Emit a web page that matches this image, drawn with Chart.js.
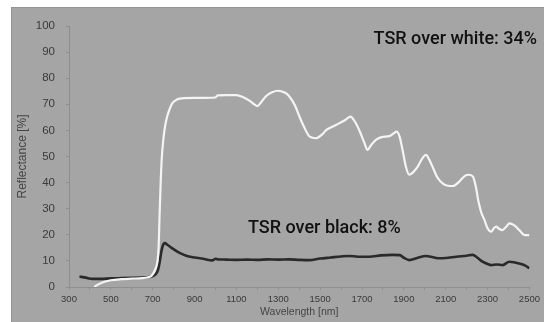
<!DOCTYPE html>
<html>
<head>
<meta charset="utf-8">
<script src="https://cdn.jsdelivr.net/npm/chart.js@4/dist/chart.umd.min.js"></script>
<style>
  html, body { margin: 0; padding: 0; background: #ffffff; }
  #wrap { position: relative; width: 544px; height: 322px; overflow: hidden; }
  #panel {
    position: absolute; left: 11px; top: 7px; right: 0; bottom: 0;
    background: #a5a5a5;
    border-left: 1px solid #949494; border-top: 1px solid #949494;
  }
  #chart { position: absolute; left: 0; top: 0; filter: blur(0.55px); }
  .note {
    position: absolute; font-family: Roboto, "Noto Sans", sans-serif;
    font-weight: 500; font-size: 18px; line-height: 1; color: #111111;
    white-space: nowrap;
  }
  #noteWhite { right: 7px; top: 29px; }
  #noteBlack { left: 248px; top: 218px; }
</style>
</head>
<body>
<div id="wrap">
  <div id="panel"></div>
  <canvas id="chart" width="544" height="322"></canvas>
  <div class="note" id="noteWhite">TSR over white: 34%</div>
  <div class="note" id="noteBlack">TSR over black: 8%</div>
</div>
<script>
// Reflectance spectrum of the coating measured over a white substrate
const whiteWavelength = [420, 445, 470, 500, 550, 600, 650, 690, 705, 714, 722, 728, 733, 738, 743, 750, 758, 768, 780, 795, 815, 850, 900, 950, 1000, 1010, 1050, 1100, 1130, 1160, 1185, 1200, 1215, 1240, 1270, 1300, 1330, 1350, 1380, 1400, 1425, 1450, 1480, 1510, 1530, 1560, 1590, 1620, 1645, 1665, 1690, 1710, 1727, 1740, 1755, 1775, 1800, 1830, 1850, 1865, 1880, 1895, 1910, 1926, 1945, 1966, 1990, 2006, 2020, 2040, 2060, 2085, 2110, 2135, 2165, 2190, 2210, 2230, 2245, 2255, 2270, 2285, 2300, 2317, 2330, 2341, 2355, 2370, 2390, 2405, 2420, 2436, 2455, 2476, 2500];
const whiteReflectance = [0, 1.2, 2.0, 2.6, 3.0, 3.2, 3.4, 4.0, 5.5, 7.2, 9.5, 15, 28, 40, 49, 56, 61, 65, 68, 70.5, 71.8, 72.4, 72.5, 72.5, 72.6, 73.4, 73.5, 73.5, 72.8, 71.5, 70, 69.3, 70.5, 73, 74.6, 75.2, 74.5, 73.3, 69.5, 65.5, 61, 57.6, 57, 58.5, 60.2, 61.5, 62.7, 64, 65.3, 63.5, 59.5, 55.5, 52.5, 54, 55.5, 56.8, 57.5, 57.8, 58.8, 59.5, 57.5, 52, 46, 43, 44, 46.1, 49.5, 50.6, 49, 45.5, 42, 39.7, 38.8, 38.7, 40.4, 42.5, 43, 42.3, 38, 33.3, 28.5, 25.7, 22.5, 21.2, 22.5, 23.1, 22.3, 21.8, 23.2, 24.4, 24, 23.1, 21.5, 19.9, 19.9];

// Reflectance spectrum of the same coating over a black substrate
const blackWavelength = [350, 380, 411, 450, 500, 550, 600, 650, 683, 700, 715, 725, 733, 740, 748, 758, 770, 790, 826, 860, 900, 940, 985, 1000, 1010, 1050, 1100, 1150, 1200, 1250, 1300, 1350, 1400, 1448, 1500, 1550, 1600, 1639, 1680, 1735, 1790, 1845, 1880, 1900, 1926, 1960, 2006, 2040, 2069, 2100, 2150, 2200, 2229, 2250, 2276, 2300, 2317, 2345, 2372, 2404, 2430, 2460, 2480, 2500];
const blackReflectance = [4.0, 3.6, 3.1, 3.1, 3.3, 3.4, 3.5, 3.6, 3.8, 4.2, 5.0, 6.5, 9.5, 13, 15.8, 16.8, 16.2, 15, 13.2, 12, 11.3, 10.8, 10.2, 10.8, 10.6, 10.5, 10.4, 10.5, 10.4, 10.6, 10.5, 10.6, 10.4, 10.3, 10.9, 11.3, 11.7, 11.9, 11.6, 11.6, 12.1, 12.3, 12.2, 11.2, 10.3, 11, 11.9, 11.4, 11, 11.1, 11.6, 12, 12.3, 11.3, 9.7, 8.8, 8.4, 8.6, 8.4, 9.7, 9.4, 8.8, 8.2, 7.2];

// Axis ranges and labels
const xRange = [300, 2500];
const yRange = [0, 100];
const xTitle = 'Wavelength [nm]';
const yTitle = 'Reflectance [%]';

const toPoints = (xs, ys) => xs.map((x, i) => ({ x: x, y: ys[i] }));

const axisColor = '#8e8e8e';
const tickColor = '#3a3a3a';
const labelFont = '"Liberation Sans", Arial, sans-serif';

new Chart(document.getElementById('chart'), {
  type: 'line',
  data: {
    datasets: [
      {
        label: 'Over white',
        data: toPoints(whiteWavelength, whiteReflectance),
        borderColor: '#f4f4f4',
        borderWidth: 2.2,
        pointRadius: 0,
        cubicInterpolationMode: 'monotone',
        fill: false
      },
      {
        label: 'Over black',
        data: toPoints(blackWavelength, blackReflectance),
        borderColor: '#2a2a2a',
        borderWidth: 2.6,
        pointRadius: 0,
        cubicInterpolationMode: 'monotone',
        fill: false
      }
    ]
  },
  options: {
    responsive: false,
    animation: false,
    events: [],
    layout: { padding: { left: 0, right: 14, top: 26, bottom: 0 } },
    plugins: { legend: { display: false }, tooltip: { enabled: false } },
    scales: {
      x: {
        type: 'linear',
        min: xRange[0],
        max: xRange[1],
        afterFit: (scale) => { scale.height = 35; },
        border: { color: axisColor, width: 1 },
        grid: { drawOnChartArea: false, drawTicks: true, tickLength: 3, color: axisColor },
        ticks: {
          stepSize: 100,
          autoSkip: false,
          maxRotation: 0,
          padding: 4,
          color: tickColor,
          font: { family: labelFont, size: 9.5 },
          callback: (v) => ((v - xRange[0]) % 200 === 0 ? String(v) : '')
        },
        title: {
          display: true,
          text: xTitle,
          color: '#454545',
          font: { family: labelFont, size: 10.5 },
          padding: { top: 0, bottom: 4 }
        }
      },
      y: {
        min: yRange[0],
        max: yRange[1],
        afterFit: (scale) => { scale.width = 69; },
        border: { color: axisColor, width: 1 },
        grid: { drawOnChartArea: false, drawTicks: true, tickLength: 3, color: axisColor },
        ticks: {
          stepSize: 10,
          padding: 11,
          color: tickColor,
          font: { family: labelFont, size: 11.5 }
        },
        title: {
          display: true,
          text: yTitle,
          color: '#454545',
          font: { family: labelFont, size: 12 },
          padding: { top: 15, bottom: 0 }
        }
      }
    }
  }
});
</script>
</body>
</html>
